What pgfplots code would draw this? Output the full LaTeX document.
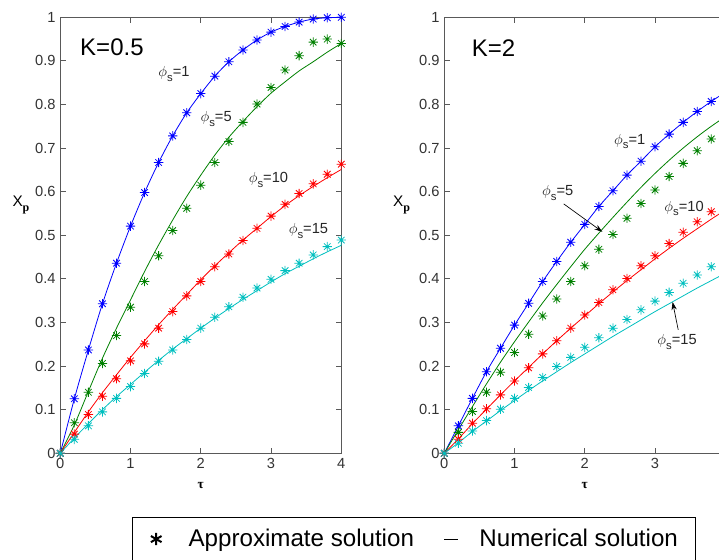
\documentclass[border=0pt]{standalone}
\usepackage{fontspec}
\setmainfont{Liberation Sans}
\newfontfamily\serifb{Liberation Serif}
\usepackage{pgfplots}
\pgfplotsset{compat=1.18}
\usepackage{pgfplotstable}
\usetikzlibrary{arrows.meta}

\definecolor{mblue}{RGB}{0,0,255}
\definecolor{mgreen}{RGB}{0,128,0}
\definecolor{mred}{RGB}{255,0,0}
\definecolor{mcyan}{RGB}{0,191,191}

\pgfdeclareplotmark{mstar}{%
  \pgfpathmoveto{\pgfqpoint{-\pgfplotmarksize}{0pt}}\pgfpathlineto{\pgfqpoint{\pgfplotmarksize}{0pt}}%
  \pgfpathmoveto{\pgfqpoint{0pt}{-\pgfplotmarksize}}\pgfpathlineto{\pgfqpoint{0pt}{\pgfplotmarksize}}%
  \pgfpathmoveto{\pgfqpoint{-0.7\pgfplotmarksize}{-0.7\pgfplotmarksize}}\pgfpathlineto{\pgfqpoint{0.7\pgfplotmarksize}{0.7\pgfplotmarksize}}%
  \pgfpathmoveto{\pgfqpoint{-0.7\pgfplotmarksize}{0.7\pgfplotmarksize}}\pgfpathlineto{\pgfqpoint{0.7\pgfplotmarksize}{-0.7\pgfplotmarksize}}%
  \pgfusepathqstroke}

% K = 0.5 : a = approximate (markers), n = numerical (lines)
\pgfplotstableread{
t   a1    a5    a10   a15   n1    n5    n10   n15
0   0     0     0     0     0     0     0     0
0.2 0.125 0.070 0.044 0.032 0.125 0.065 0.048 0.035
0.4 0.237 0.140 0.089 0.063 0.237 0.142 0.095 0.068
0.6 0.343 0.206 0.131 0.095 0.343 0.218 0.139 0.100
0.8 0.436 0.270 0.171 0.126 0.436 0.287 0.180 0.130
1.0 0.521 0.335 0.212 0.153 0.521 0.352 0.220 0.158
1.2 0.598 0.394 0.251 0.183 0.598 0.417 0.258 0.186
1.4 0.667 0.453 0.287 0.211 0.667 0.478 0.295 0.213
1.6 0.728 0.511 0.325 0.237 0.728 0.535 0.330 0.239
1.8 0.781 0.562 0.361 0.261 0.781 0.589 0.364 0.263
2.0 0.825 0.615 0.394 0.287 0.825 0.638 0.398 0.287
2.2 0.865 0.667 0.428 0.312 0.865 0.684 0.430 0.310
2.4 0.898 0.715 0.457 0.336 0.898 0.725 0.460 0.332
2.6 0.925 0.759 0.488 0.358 0.925 0.761 0.489 0.353
2.8 0.948 0.801 0.516 0.379 0.948 0.795 0.516 0.373
3.0 0.966 0.839 0.544 0.399 0.966 0.826 0.543 0.393
3.2 0.979 0.879 0.571 0.419 0.979 0.852 0.568 0.412
3.4 0.989 0.912 0.596 0.436 0.989 0.877 0.591 0.429
3.6 0.996 0.943 0.618 0.455 0.996 0.898 0.612 0.446
3.8 0.999 0.950 0.640 0.474 0.999 0.920 0.632 0.462
4.0 1.000 0.940 0.663 0.489 1.000 0.940 0.651 0.477
}\dataA

% K = 2
\pgfplotstableread{
t   a1    a5    a10   a15   n1    n5    n10   n15
0   0     0     0     0     0     0     0     0
0.2 0.063 0.048 0.032 0.023 0.063 0.054 0.033 0.024
0.4 0.126 0.096 0.069 0.051 0.126 0.107 0.068 0.050
0.6 0.187 0.140 0.102 0.075 0.187 0.159 0.101 0.074
0.8 0.241 0.186 0.134 0.101 0.241 0.209 0.134 0.098
1.0 0.294 0.231 0.166 0.126 0.294 0.256 0.166 0.121
1.2 0.344 0.273 0.196 0.151 0.344 0.301 0.197 0.144
1.4 0.394 0.315 0.228 0.174 0.394 0.345 0.228 0.166
1.6 0.440 0.354 0.258 0.199 0.440 0.387 0.258 0.187
1.8 0.484 0.394 0.287 0.220 0.484 0.428 0.287 0.208
2.0 0.525 0.430 0.317 0.243 0.525 0.468 0.315 0.228
2.2 0.566 0.468 0.346 0.265 0.566 0.505 0.343 0.248
2.4 0.602 0.502 0.375 0.287 0.602 0.541 0.370 0.268
2.6 0.638 0.539 0.401 0.307 0.638 0.576 0.396 0.287
2.8 0.670 0.573 0.430 0.329 0.670 0.610 0.421 0.306
3.0 0.703 0.604 0.453 0.349 0.703 0.642 0.446 0.325
3.2 0.732 0.635 0.481 0.369 0.732 0.672 0.470 0.343
3.4 0.759 0.665 0.507 0.390 0.759 0.700 0.493 0.361
3.6 0.784 0.694 0.531 0.409 0.784 0.726 0.515 0.379
3.8 0.807 0.721 0.554 0.428 0.807 0.750 0.537 0.396
4.0 0.828 0.745 0.575 0.446 0.828 0.772 0.558 0.413
}\dataB

\newcommand\phis[1]{$\phi$\raisebox{-0.55ex}{\fontsize{8.5}{9}\selectfont s}=#1}

\tikzset{ann/.style={font=\fontsize{11}{13}\selectfont, anchor=west, inner sep=0pt, text=black!85}}

\pgfplotsset{
  panel/.style={
    scale only axis, width=210.75pt, height=327pt,
    xmin=0, xmax=4, ymin=0, ymax=1,
    xtick={0,1,2,3,4},
    ytick={0,0.1,0.2,0.3,0.4,0.5,0.6,0.7,0.8,0.9,1},
    tick align=inside, major tick length=4pt,
    axis line style={black!65, line width=0.6pt},
    tick style={black!65, line width=0.6pt},
    tick label style={font=\fontsize{11}{13}\selectfont, text=black!80},
    /pgf/number format/assume math mode=true,
    /pgf/number format/fixed,
    clip=false,
  },
  approx/.style={only marks, mark=mstar, mark size=3.5pt, mark options={line width=0.6pt}},
  numer/.style={no marks, smooth, line width=0.6pt},
}

\begin{document}
\begin{tikzpicture}
\useasboundingbox (0pt,0pt) rectangle (539.25pt,420pt);
\clip (0pt,0pt) rectangle (539.25pt,420pt);

% ---------- left panel, K = 0.5
\begin{axis}[panel, at={(45.225pt,80.025pt)}, anchor=south west,
  ylabel={X\raisebox{-0.6ex}{\serifb\bfseries\fontsize{9}{10}\selectfont p}},
  ylabel style={rotate=-90, at={(rel axis cs:-0.140,0.569)}, anchor=center, font=\fontsize{11.5}{13}\selectfont},
  xlabel={\serifb\bfseries\fontsize{10}{11}\selectfont τ},
  xlabel style={at={(rel axis cs:0.5,-0.073)}, anchor=center},
  legend style={at={(rel axis cs:0.255,-0.146)}, anchor=north west,
    legend columns=2, draw=black, line width=0.6pt, fill=white,
    inner xsep=13pt, inner ysep=9pt, column sep=0pt,
    font=\fontsize{18.1}{22}\selectfont,
    nodes={inner sep=0pt, anchor=west}},
  legend cell align=left,
]
\addlegendimage{legend image code/.code={%
  \draw[black, line width=1.5pt] plot[mark=asterisk, mark size=4.6pt] coordinates {(0pt,0pt)};
  \path (-4.6pt,0pt) (24pt,0pt);}}
\addlegendentry{Approximate solution}
\addlegendimage{legend image code/.code={%
  \draw[black, line width=0.6pt] (0pt,0pt) -- (10.5pt,0pt);
  \path (-22.5pt,0pt) (26pt,0pt);}}
\addlegendentry{Numerical solution}

\addplot[numer, mblue]  table[x=t, y=n1]  {\dataA};
\addplot[numer, mgreen] table[x=t, y=n5]  {\dataA};
\addplot[numer, mred]   table[x=t, y=n10] {\dataA};
\addplot[numer, mcyan]  table[x=t, y=n15] {\dataA};
\addplot[approx, mblue]  table[x=t, y=a1]  {\dataA};
\addplot[approx, mgreen] table[x=t, y=a5]  {\dataA};
\addplot[approx, mred]   table[x=t, y=a10] {\dataA};
\addplot[approx, mcyan]  table[x=t, y=a15] {\dataA};

\node[anchor=west, inner sep=0pt, font=\fontsize{18}{20}\selectfont] at (axis cs:0.28,0.932) {K=0.5};
\node[ann] at (axis cs:1.394,0.870) {\phis{1}};
\node[ann] at (axis cs:1.993,0.767) {\phis{5}};
\node[ann] at (axis cs:2.68,0.627) {\phis{10}};
\node[ann] at (axis cs:3.25,0.510) {\phis{15}};
\end{axis}

% ---------- right panel, K = 2 (cut off at the right edge, as in the reference)
\begin{axis}[panel, at={(333.225pt,80.025pt)}, anchor=south west,
  xtick={0,1,2,3},
  ylabel={X\raisebox{-0.6ex}{\serifb\bfseries\fontsize{9}{10}\selectfont p}},
  ylabel style={rotate=-90, at={(rel axis cs:-0.152,0.569)}, anchor=center, font=\fontsize{11.5}{13}\selectfont},
  xlabel={\serifb\bfseries\fontsize{10}{11}\selectfont τ},
  xlabel style={at={(rel axis cs:0.5,-0.073)}, anchor=center},
]
\addplot[numer, mblue]  table[x=t, y=n1]  {\dataB};
\addplot[numer, mgreen] table[x=t, y=n5]  {\dataB};
\addplot[numer, mred]   table[x=t, y=n10] {\dataB};
\addplot[numer, mcyan]  table[x=t, y=n15] {\dataB};
\addplot[approx, mblue]  table[x=t, y=a1]  {\dataB};
\addplot[approx, mgreen] table[x=t, y=a5]  {\dataB};
\addplot[approx, mred]   table[x=t, y=a10] {\dataB};
\addplot[approx, mcyan]  table[x=t, y=a15] {\dataB};

\node[anchor=west, inner sep=0pt, font=\fontsize{18}{20}\selectfont] at (axis cs:0.39,0.930) {K=2};
\node[ann] at (axis cs:2.414,0.716) {\phis{1}};
\node[ann] at (axis cs:1.39,0.597) {\phis{5}};
\node[ann] at (axis cs:3.13,0.562) {\phis{10}};
\node[ann] at (axis cs:3.03,0.255) {\phis{15}};
\draw[-{Stealth[length=6pt,width=4pt]}, line width=0.5pt] (axis cs:1.70,0.572) -- (axis cs:2.25,0.508);
\draw[-{Stealth[length=6pt,width=4pt]}, line width=0.5pt] (axis cs:3.33,0.283) -- (axis cs:3.25,0.347);
\end{axis}
\end{tikzpicture}
\end{document}
